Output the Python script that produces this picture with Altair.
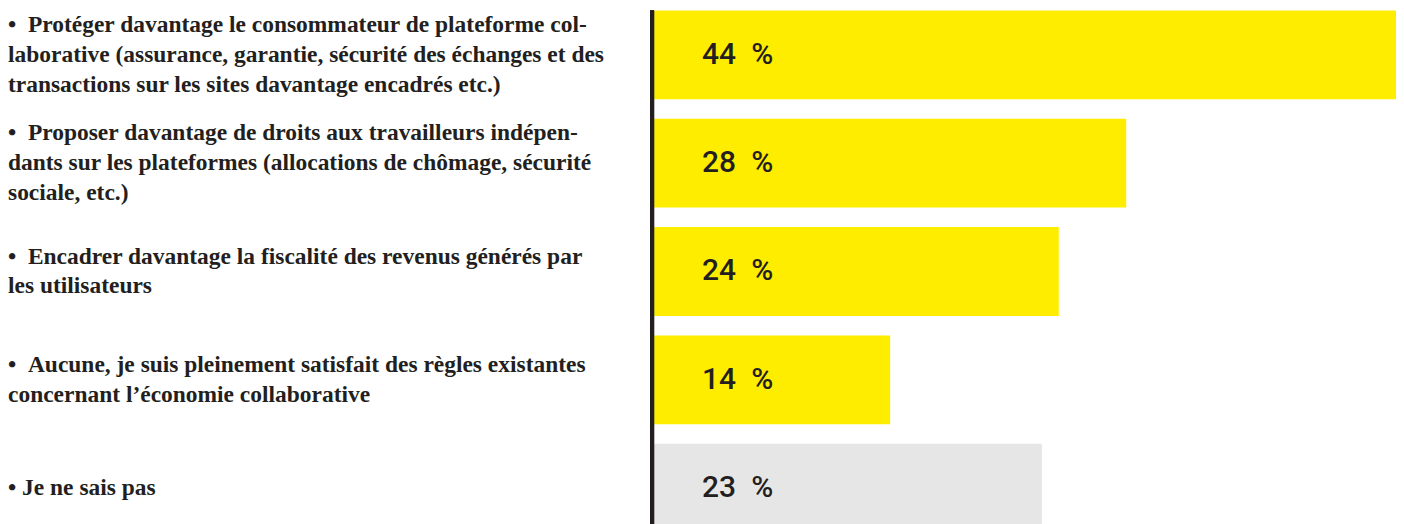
import altair as alt
import pandas as pd

categories = [
    "•\u2002Protéger davantage le consommateur de plateforme col-|laborative (assurance, garantie, sécurité des échanges et des|transactions sur les sites davantage encadrés etc.)",
    "•\u2002Proposer davantage de droits aux travailleurs indépen-|dants sur les plateformes (allocations de chômage, sécurité|sociale, etc.)",
    "•\u2002Encadrer davantage la fiscalité des revenus générés par|les utilisateurs",
    "•\u2002Aucune, je suis pleinement satisfait des règles existantes|concernant l’économie collaborative",
    "• Je ne sais pas",
]
values = [44, 28, 24, 14, 23]
groups = ["action", "action", "action", "action", "nsp"]

LINE_H = 30
df = pd.DataFrame({
    "cat": categories,
    "val": values,
    "grp": groups,
    "txt": [f"{v}\u2002%" for v in values],
})
df["lines"] = df["cat"].str.split("|")
df["n"] = df["lines"].str.len()

y_enc = alt.Y("cat:N", sort=None, axis=None,
              scale=alt.Scale(paddingInner=0.18, paddingOuter=0))

bars = alt.Chart(df).mark_bar(cornerRadius=0).encode(
    x=alt.X("val:Q", axis=None, scale=alt.Scale(domain=[0, 44], nice=False)),
    y=y_enc,
    color=alt.Color("grp:N", legend=None,
                    scale=alt.Scale(domain=["action", "nsp"], range=["#ffed00", "#e6e6e6"])),
)

axis_line = alt.Chart(df).mark_rule(color="#231f20", strokeWidth=4).encode(
    x=alt.value(-2),
    y=alt.value(0),
    y2=alt.value(523),
)

cat_layers = []
for n in (1, 2, 3):
    cat_layers.append(
        alt.Chart(df).transform_filter(alt.datum.n == n).mark_text(
            align="left", baseline="middle", font="Liberation Serif", fontSize=23.5,
            fontWeight="bold", color="#231f20", lineHeight=LINE_H,
            dy=-(n - 1) * LINE_H / 2,
        ).encode(
            x=alt.value(-647),
            y=y_enc,
            text="lines",
        )
    )

pct_labels = alt.Chart(df).mark_text(
    align="left", baseline="middle", font="Roboto", fontSize=30,
    fontWeight=500, color="#231f20",
).encode(
    x=alt.value(48),
    y=y_enc,
    text="txt:N",
)

chart = alt.layer(bars, axis_line, *cat_layers, pct_labels).properties(
    width=743, height=523, padding=0
).configure_view(stroke=None)

chart.save("out.html", embed_options={"renderer": "svg", "actions": False})
